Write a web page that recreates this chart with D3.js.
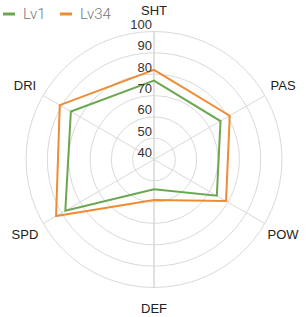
<!DOCTYPE html>
<html><head><meta charset="utf-8">
<script src="https://cdn.jsdelivr.net/npm/d3@7"></script>
<style>body{margin:0;background:#fff}svg{display:block}</style>
</head><body>
<svg id="c" width="308" height="317"></svg>
<script>
const indicators = ["SHT","PAS","POW","DEF","SPD","DRI"];
const seriesNames = ["Lv1","Lv34"];
const lv1 = [77, 76, 74, 54, 88, 85];
const lv34 = [82, 81, 79, 59, 93, 91];
const ticks = [40,50,60,70,80,90,100];
const colors = ["#6aa84f","#ee8c34"];

const svg = d3.select("#c");
const cx = 154, cy = 159.5, R = 128;
const r = d3.scaleLinear().domain([40,100]).range([0,R]);
const ang = i => -Math.PI/2 + i*2*Math.PI/indicators.length;
const g = svg.append("g").attr("transform",`translate(${cx},${cy})`);

// split circles
g.selectAll("circle.split").data(ticks.slice(1)).enter().append("circle")
  .attr("r", d=>r(d)).attr("fill","none").attr("stroke","#d9d9d9").attr("stroke-width",1);
// axis lines
g.selectAll("line.ax").data(indicators).enter().append("line")
  .attr("x1",0).attr("y1",0)
  .attr("x2",(d,i)=>R*Math.cos(ang(i))).attr("y2",(d,i)=>R*Math.sin(ang(i)))
  .attr("stroke","#d9d9d9").attr("stroke-width",(d,i)=> (i===0||i===3)?1.6:1);

// series
const line = d3.lineRadial().angle((d,i)=>i*2*Math.PI/indicators.length).radius(d=>r(d)).curve(d3.curveLinearClosed);
[lv1, lv34].forEach((s,k)=>{
  g.append("path").attr("d",line(s)).attr("fill","none").attr("stroke",colors[k]).attr("stroke-width",2).attr("stroke-linejoin","miter");
});

// tick labels
g.selectAll("text.tick").data(ticks).enter().append("text")
  .attr("x",-2).attr("y",d=>-r(d)-2.5)
  .attr("text-anchor","end").attr("font-family","Liberation Sans, Arial, sans-serif")
  .attr("font-size",13).attr("fill","#333").text(d=>d);

// names
const nr = 149;
g.selectAll("text.name").data(indicators).enter().append("text")
  .attr("x",(d,i)=>nr*Math.cos(ang(i))).attr("y",(d,i)=>nr*Math.sin(ang(i)))
  .attr("dy","0.35em").attr("text-anchor","middle")
  .attr("font-family","Liberation Sans, Arial, sans-serif").attr("font-size",13).attr("fill","#222")
  .text(d=>d);

// legend
const lx = [3, 60];
seriesNames.forEach((n,k)=>{
  svg.append("rect").attr("x",lx[k]).attr("y",12.5).attr("width",12).attr("height",3).attr("fill",colors[k]);
  svg.append("text").attr("x",lx[k]+20).attr("y",14).attr("dy","0.35em")
    .attr("font-family","Roboto, sans-serif").attr("font-size",15).attr("font-weight",300).attr("fill","#777").text(n);
});
</script>
</body></html>
